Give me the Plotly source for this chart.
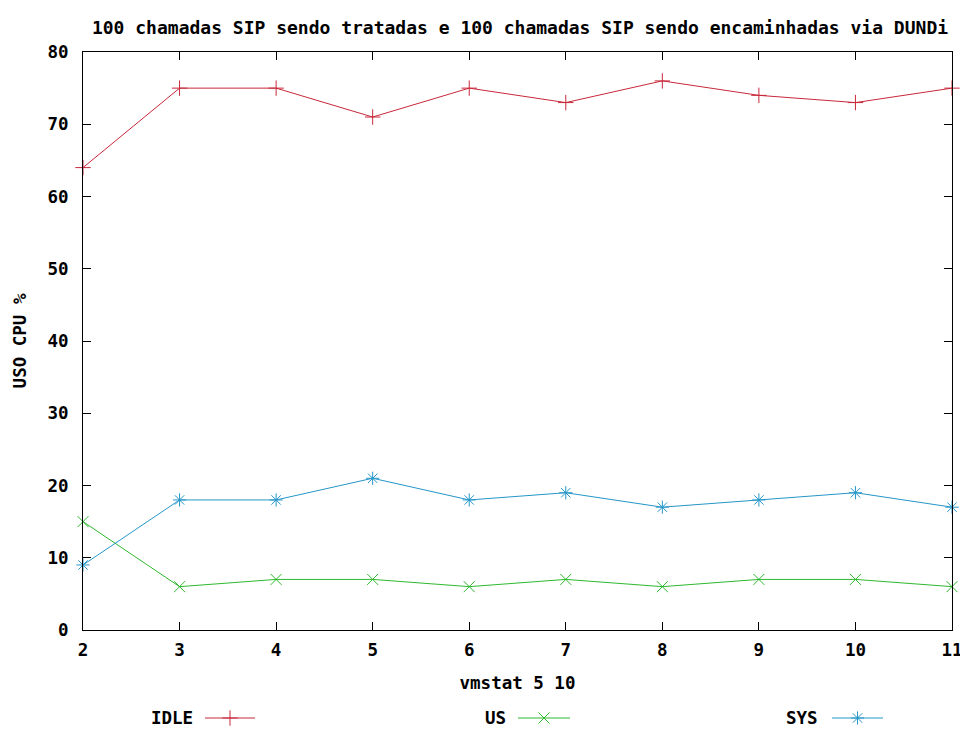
import plotly.graph_objects as go

x_vals = [2, 3, 4, 5, 6, 7, 8, 9, 10, 11]
idle = [64, 75, 75, 71, 75, 73, 76, 74, 73, 75]
us = [15, 6, 7, 7, 6, 7, 6, 7, 7, 6]
sys_ = [9, 18, 18, 21, 18, 19, 17, 18, 19, 17]
series_names = ["IDLE", "US", "SYS"]
colors = ["#c8283a", "#2eb82e", "#2596c8"]
symbols = ["cross-thin", "x-thin", "asterisk"]

FONT = "DejaVu Sans Mono"
FS = 17.5
W, H = 960, 723   # page body has an 8px margin inside the 968x731 window

def px_x(v):
    return (v - 8) / W

def px_y(v):
    return 1 - (v - 8) / H

fig = go.Figure()
for name, ys, c, s in zip(series_names, [idle, us, sys_], colors, symbols):
    fig.add_trace(go.Scatter(
        x=x_vals, y=ys, mode="lines+markers", name=name,
        line=dict(color=c, width=1),
        marker=dict(symbol=s, size=11, color=c, line=dict(color=c, width=1)),
        showlegend=False, cliponaxis=False,
    ))

# legend samples on an auxiliary axis in the bottom band (x in figure fraction)
leg_text_x = [px_x(195), px_x(508), px_x(820)]
leg_line = [(px_x(205), px_x(255)), (px_x(518), px_x(570)), (px_x(832), px_x(883))]
for name, c, s, tx, (a, b) in zip(series_names, colors, symbols, leg_text_x, leg_line):
    fig.add_trace(go.Scatter(
        x=[a, b], y=[0, 0], xaxis="x2", yaxis="y2", mode="lines",
        line=dict(color=c, width=1), showlegend=False, hoverinfo="skip"))
    fig.add_trace(go.Scatter(
        x=[(a + b) / 2], y=[0], xaxis="x2", yaxis="y2", mode="markers",
        marker=dict(symbol=s, size=11, color=c, line=dict(color=c, width=1)),
        showlegend=False, hoverinfo="skip", cliponaxis=False))
    fig.add_annotation(x=tx, y=0, xref="x2", yref="y2", text="<b>%s</b>" % name,
                       showarrow=False, xanchor="right", yanchor="middle",
                       font=dict(family=FONT, size=FS, color="black"))

axis_common = dict(showline=True, linecolor="black", linewidth=1, mirror="allticks",
                   ticks="inside", ticklen=8, tickcolor="black", showgrid=False,
                   zeroline=False, tickfont=dict(family=FONT, size=FS, color="black"))

fig.update_layout(
    width=W, height=H,
    margin=dict(l=0, r=0, t=0, b=0, autoexpand=False),
    paper_bgcolor="white", plot_bgcolor="white",
    title=dict(text="<b>100 chamadas SIP sendo tratadas e 100 chamadas SIP sendo encaminhadas via DUNDi</b>",
               x=px_x(520), xanchor="center", xref="paper", y=px_y(28), yanchor="middle",
               font=dict(family=FONT, size=18, color="black")),
    xaxis=dict(domain=[px_x(83), px_x(952)], range=[2, 11], tickvals=x_vals,
               ticktext=["<b>%d</b>" % v for v in x_vals], ticklabelstandoff=4,
               title=dict(text="<b>vmstat 5 10</b>", font=dict(family=FONT, size=FS, color="black"),
                          standoff=17),
               automargin=False, **axis_common),
    yaxis=dict(domain=[px_y(630), px_y(52)], range=[0, 80], tickvals=list(range(0, 81, 10)),
               ticktext=["<b>%d</b>" % v for v in range(0, 81, 10)], ticklabelstandoff=10,
               title=dict(text="<b>USO CPU %</b>", font=dict(family=FONT, size=FS, color="black"),
                          standoff=16),
               automargin=False, **axis_common),
    xaxis2=dict(domain=[0, 1], range=[0, 1], visible=False, anchor="y2", fixedrange=True),
    yaxis2=dict(domain=[0, 2 * px_y(718)], range=[-1, 1], visible=False, anchor="x2",
                fixedrange=True),
)

fig.write_html("out.html")
